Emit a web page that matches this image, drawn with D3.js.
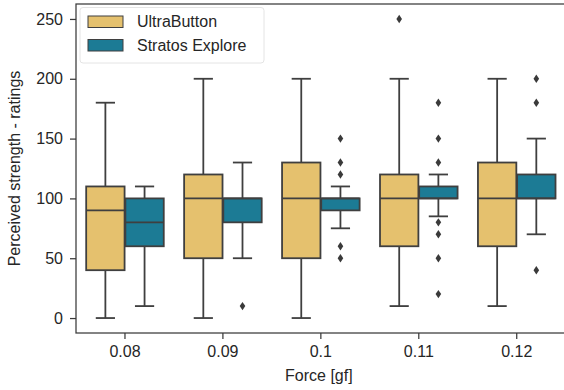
<!DOCTYPE html>
<html>
<head>
<meta charset="utf-8">
<script src="https://cdn.jsdelivr.net/npm/d3@7"></script>
<style>
  body { margin: 0; background: #fff; }
  svg { font-family: "Liberation Sans", Arial, sans-serif; }
  .tick text { font-size: 16px; fill: #262626; }
</style>
</head>
<body>
<svg id="chart" width="564" height="390"></svg>
<script>
// Force levels on x axis
var forces = ['0.08', '0.09', '0.1', '0.11', '0.12'];
var devices = ['UltraButton', 'Stratos Explore'];
var yTicks = [0, 50, 100, 150, 200, 250];

// box summaries per force level
var ultraLow    = [0, 0, 0, 10, 10];
var ultraQ1     = [40, 50, 50, 60, 60];
var ultraMedian = [90, 100, 100, 100, 100];
var ultraQ3     = [110, 120, 130, 120, 130];
var ultraHigh   = [180, 200, 200, 200, 200];
var ultraOut    = [[], [], [], [250], []];

var stratosLow    = [10, 50, 75, 85, 70];
var stratosQ1     = [60, 80, 90, 100, 100];
var stratosMedian = [80, 100, 100, 100, 100];
var stratosQ3     = [100, 100, 100, 110, 120];
var stratosHigh   = [110, 130, 110, 120, 150];
var stratosOut    = [[], [10], [150, 130, 120, 60, 50], [180, 150, 130, 80, 70, 50, 20], [200, 180, 40]];

var colors = {'UltraButton': '#e5c16e', 'Stratos Explore': '#1c7b95'};
var edge = '#3f3f3f';

var svg = d3.select('#chart');
var plotL = 76, plotR = 565.7, plotT = 4, plotB = 333;

var scaleX = d3.scaleBand().domain(forces).range([plotL, plotR]).padding(0);
var scaleY = d3.scaleLinear().domain([-12.5, 262.5]).range([plotB, plotT]);
var bw = scaleX.bandwidth();
var boxW = bw * 0.4 * 0.98;

// build box records from the arrays
var boxes = [];
forces.forEach(function(f, i) {
  boxes.push({force: f, device: devices[0], off: -0.2, low: ultraLow[i], q1: ultraQ1[i], med: ultraMedian[i],
    q3: ultraQ3[i], high: ultraHigh[i], out: ultraOut[i]});
  boxes.push({force: f, device: devices[1], off: 0.2, low: stratosLow[i], q1: stratosQ1[i], med: stratosMedian[i],
    q3: stratosQ3[i], high: stratosHigh[i], out: stratosOut[i]});
});
function cx(d) { return scaleX(d.force) + bw / 2 + d.off * bw; }

// axes
var axisX = d3.axisBottom(scaleX).tickSize(6).tickPadding(7);
var axisY = d3.axisLeft(scaleY).tickValues(yTicks).tickSize(6).tickPadding(7);

var gx = svg.append('g').attr('transform', 'translate(0,' + plotB + ')').call(axisX);
var gy = svg.append('g').attr('transform', 'translate(' + plotL + ',0)').call(axisY);
[gx, gy].forEach(function(g) {
  g.select('.domain').remove();
  g.selectAll('.tick line').attr('stroke', '#3a3a3a').attr('stroke-width', 1.25);
  g.selectAll('.tick text').attr('font-family', null).attr('font-size', null);
});

// frame
svg.append('rect').attr('x', plotL).attr('y', plotT).attr('width', plotR - plotL).attr('height', plotB - plotT)
  .attr('fill', 'none').attr('stroke', '#3a3a3a').attr('stroke-width', 1.25);

var g = svg.append('g');
var bg = g.selectAll('g.box').data(boxes).enter().append('g').attr('class', 'box');

// whiskers
bg.append('line').attr('x1', cx).attr('x2', cx)
  .attr('y1', function(d) { return scaleY(d.q3); }).attr('y2', function(d) { return scaleY(d.high); })
  .attr('stroke', edge).attr('stroke-width', 1.8);
bg.append('line').attr('x1', cx).attr('x2', cx)
  .attr('y1', function(d) { return scaleY(d.q1); }).attr('y2', function(d) { return scaleY(d.low); })
  .attr('stroke', edge).attr('stroke-width', 1.8);
// caps
['high', 'low'].forEach(function(k) {
  bg.append('line')
    .attr('x1', function(d) { return cx(d) - boxW / 4; }).attr('x2', function(d) { return cx(d) + boxW / 4; })
    .attr('y1', function(d) { return scaleY(d[k]); }).attr('y2', function(d) { return scaleY(d[k]); })
    .attr('stroke', edge).attr('stroke-width', 1.8);
});
// box
bg.append('rect')
  .attr('x', function(d) { return cx(d) - boxW / 2; })
  .attr('y', function(d) { return scaleY(d.q3); })
  .attr('width', boxW)
  .attr('height', function(d) { return scaleY(d.q1) - scaleY(d.q3); })
  .attr('fill', function(d) { return colors[d.device]; })
  .attr('stroke', edge).attr('stroke-width', 1.8);
// median
bg.append('line')
  .attr('x1', function(d) { return cx(d) - boxW / 2; }).attr('x2', function(d) { return cx(d) + boxW / 2; })
  .attr('y1', function(d) { return scaleY(d.med); }).attr('y2', function(d) { return scaleY(d.med); })
  .attr('stroke', edge).attr('stroke-width', 1.8);
// outliers (thin diamonds)
bg.each(function(d) {
  d3.select(this).selectAll('path.flier').data(d.out).enter().append('path')
    .attr('class', 'flier')
    .attr('d', function(v) {
      var x = cx(d), y = scaleY(v);
      return 'M' + x + ',' + (y - 4.2) + 'L' + (x + 2.8) + ',' + y + 'L' + x + ',' + (y + 4.2) + 'L' + (x - 2.8) + ',' + y + 'Z';
    })
    .attr('fill', '#3a3a3a');
});

// axis labels
svg.append('text').attr('x', (plotL + plotR) / 2 - 2).attr('y', 381).attr('text-anchor', 'middle')
  .style('font-size', '16px').attr('fill', '#262626').text('Force [gf]');
svg.append('text').attr('transform', 'translate(20,' + ((plotT + plotB) / 2) + ')rotate(-90)')
  .attr('text-anchor', 'middle').style('font-size', '16px').attr('fill', '#262626')
  .text('Perceived strength - ratings');

// legend
var lg = svg.append('g');
lg.append('rect').attr('x', 80).attr('y', 7.5).attr('width', 184).attr('height', 55.5).attr('rx', 3)
  .attr('fill', '#fff').attr('fill-opacity', 0.8).attr('stroke', '#e4e4e4');
devices.forEach(function(dv, i) {
  var y = 16 + i * 23.5;
  lg.append('rect').attr('x', 88).attr('y', y).attr('width', 35).attr('height', 11.5)
    .attr('fill', colors[dv]).attr('stroke', edge).attr('stroke-width', 1);
  lg.append('text').attr('x', 137).attr('y', y + 11).style('font-size', '16px').attr('fill', '#262626').text(dv);
});
</script>
</body>
</html>
